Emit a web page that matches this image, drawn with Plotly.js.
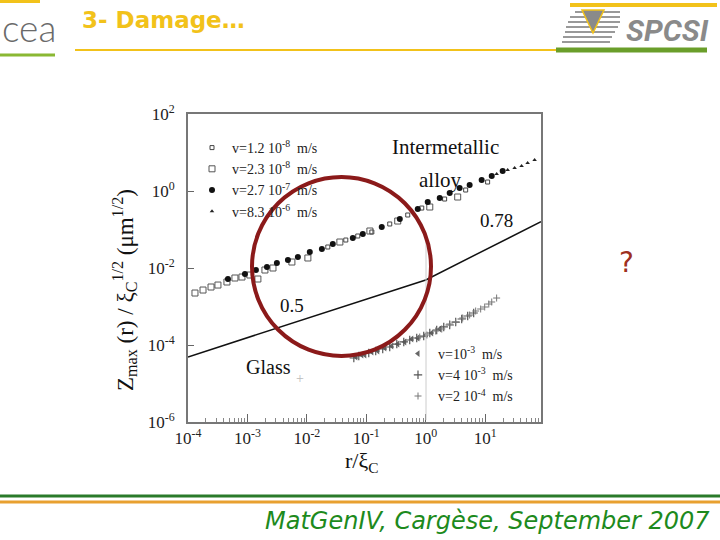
<!DOCTYPE html>
<html>
<head>
<meta charset="utf-8">
<script src="https://cdn.plot.ly/plotly-3.0.1.min.js"></script>
<style>html,body{margin:0;padding:0;background:#fff;}#chart{width:720px;height:540px;}</style>
</head>
<body>
<div id="chart"></div>
<script>
// ---- Data ----
// Intermetallic alloy
const alloyNames = ['v=1.2\u00a010<sup>-8</sup>\u00a0\u00a0m/s','v=2.3\u00a010<sup>-8</sup>\u00a0\u00a0m/s','v=2.7\u00a010<sup>-7</sup>\u00a0\u00a0m/s','v=8.3\u00a010<sup>-6</sup>\u00a0\u00a0m/s'];
const alloy1X = [0.0225,0.0452,0.0719,0.124,0.248,0.498,0.857,2.08,4.70,11.0];
const alloy1Y = [0.0351,0.0533,0.0678,0.0861,0.139,0.238,0.361,0.619,1.06,1.71];
const alloy2X = [1.31e-4,1.79e-4,2.44e-4,3.19e-4,4.52e-4,6.16e-4,8.09e-4,1.10e-3,1.50e-3,1.97e-3,2.69e-3,5.60e-3,1.04e-2,3.59e-2,0.115,0.338,1.17,3.45];
const alloy2Y = [2.24e-3,2.68e-3,3.21e-3,3.61e-3,4.33e-3,5.50e-3,5.83e-3,6.58e-3,5.18e-3,8.87e-3,1.0e-2,1.43e-2,1.82e-2,4.73e-2,0.0914,0.166,0.384,0.698];
const alloy3X = [4.70e-4,9.08e-4,1.39e-3,2.13e-3,3.13e-3,4.80e-3,7.06e-3,1.12e-2,1.79e-2,2.73e-2,5.93e-2,8.73e-2,0.182,0.366,0.734,1.08,1.72,2.53,3.72,5.48,8.73,12.9,19.7];
const alloy3Y = [5.18e-3,6.98e-3,8.87e-3,1.06e-2,1.35e-2,1.61e-2,1.93e-2,2.61e-2,3.12e-2,4.20e-2,6.01e-2,7.64e-2,0.116,0.187,0.340,0.518,0.658,0.887,1.20,1.43,1.93,2.45,3.30];
const alloy4X = [15.6,23.9,31.3,41.0,51.8,67.9];
const alloy4Y = [2.77,3.51,3.96,4.46,5.33,6.38];
// Glass
const glassNames = ['v=10<sup>-3</sup>\u00a0\u00a0m/s','v=4\u00a010<sup>-3</sup>\u00a0\u00a0m/s','v=2\u00a010<sup>-4</sup>\u00a0\u00a0m/s'];
const glass1X = [0.0667,0.0840,0.0944,0.124,0.156,0.205,0.268,0.338,0.444,0.582,0.734,1.0,1.26,1.72];
const glass1Y = [4.88e-5,5.50e-5,5.50e-5,6.58e-5,6.98e-5,8.36e-5,9.42e-5,1.06e-4,1.20e-4,1.43e-4,1.52e-4,1.82e-4,2.05e-4,2.61e-4];
const glass2X = [0.0617,0.0748,0.110,0.144,0.189,0.248,0.326,0.427,0.538,0.706,0.925,1.17,1.53,2.01,2.53,3.19,4.03,5.08,6.41];
const glass2Y = [4.59e-5,5.18e-5,6.19e-5,6.98e-5,7.87e-5,8.87e-5,1.06e-4,1.20e-4,1.35e-4,1.52e-4,1.71e-4,2.05e-4,2.45e-4,2.94e-4,3.31e-4,3.95e-4,4.73e-4,5.66e-4,6.78e-4];
const glass3X = [0.793,1.04,1.47,1.86,2.53,3.19,4.19,5.48,6.92,8.40,9.82,11.5,12.9,15.6];
const glass3Y = [1.61e-4,1.82e-4,2.31e-4,2.61e-4,3.51e-4,3.95e-4,5.02e-4,6.01e-4,7.64e-4,8.61e-4,9.70e-4,1.16e-3,1.31e-3,1.66e-3];
// Guide power laws (slopes 0.5 then 0.78)
const guideX = [1e-4, 1, 87];
const guideY = [4.9e-5, 4.9e-3, 0.16];
// Tick labels
const xTickVals = [1e-4,1e-3,1e-2,1e-1,1,10];
const xTickText = ['10<sup>-4</sup>','10<sup>-3</sup>','10<sup>-2</sup>','10<sup>-1</sup>','10<sup>0</sup>','10<sup>1</sup>'];
const yTickVals = [1e-6,1e-4,1e-2,1,1e2];
const yTickText = ['10<sup>-6</sup>','10<sup>-4</sup>','10<sup>-2</sup>','10<sup>0</sup>','10<sup>2</sup>'];

// ---- Layout helpers (pixel -> paper) ----
const L = 188, R = 541, T = 114, B = 422;
const px = x => (x - L) / (R - L);
const py = y => (B - y) / (B - T);
const serif = 'Liberation Serif, Times New Roman, serif';

const minorX = [];
for (let e = -4; e <= 1; e++) for (let m = 2; m <= 9; m++) minorX.push(m * Math.pow(10, e));

const traces = [
  {x: alloy1X, y: alloy1Y, name: alloyNames[0], mode: 'markers', marker: {symbol: 'square-open', size: 4, color: '#444', line: {width: 1}}},
  {x: alloy2X, y: alloy2Y, name: alloyNames[1], mode: 'markers', marker: {symbol: 'square-open', size: 6, color: '#555', line: {width: 1}}},
  {x: alloy3X, y: alloy3Y, name: alloyNames[2], mode: 'markers', marker: {symbol: 'circle', size: 6, color: '#111'}},
  {x: alloy4X, y: alloy4Y, name: alloyNames[3], mode: 'markers', marker: {symbol: 'triangle-up', size: 4, color: '#222'}},
  {x: glass1X, y: glass1Y, name: glassNames[0], legend: 'legend2', mode: 'markers', marker: {symbol: 'triangle-left', size: 6, color: '#666'}},
  {x: glass2X, y: glass2Y, name: glassNames[1], legend: 'legend2', mode: 'markers', marker: {symbol: 'cross-thin-open', size: 6, color: '#555', line: {width: 1.2, color: '#555'}}},
  {x: glass3X, y: glass3Y, name: glassNames[2], legend: 'legend2', mode: 'markers', marker: {symbol: 'cross-thin-open', size: 5, color: '#777', line: {width: 1, color: '#777'}}},
  {x: guideX, y: guideY, mode: 'lines', showlegend: false, line: {color: '#111', width: 1.5}, hoverinfo: 'skip'}
];

const ann = (x, y, text, size, extra) => Object.assign({
  xref: 'paper', yref: 'paper', x: px(x), y: py(y), text: text, showarrow: false,
  xanchor: 'center', yanchor: 'middle', font: {family: serif, size: size, color: '#111'}
}, extra || {});

const hline = (x0, x1, y, w, c) => ({type: 'line', xref: 'paper', yref: 'paper', x0: px(x0), x1: px(x1), y0: py(y), y1: py(y), line: {color: c, width: w}});

const shapes = [
  // header decorations
  hline(0, 40, 1.5, 3, '#f2c21a'),
  hline(0, 55, 55, 3, '#8ab833'),
  hline(75, 556, 50, 2, '#f2c21a'),
  hline(570, 717, 5, 4, '#f2c21a'),
  hline(556, 707, 50, 5, '#6a9e2a'),
  hline(575, 620, 12, 2, '#999'),
  hline(570, 620, 17, 2, '#999'),
  hline(568, 620, 22, 2, '#999'),
  hline(566, 618, 27, 2, '#999'),
  hline(565, 615, 32, 2, '#999'),
  hline(563, 612, 37, 2, '#999'),
  hline(562, 610, 42, 2, '#999'),
  {type: 'path', xref: 'paper', yref: 'paper',
   path: 'M ' + px(582) + ' ' + py(10) + ' L ' + px(604) + ' ' + py(10) + ' L ' + px(593) + ' ' + py(33) + ' Z',
   fillcolor: '#8a8a8a', line: {color: '#f2c21a', width: 1.5}},
  // footer lines
  hline(0, 720, 496, 3, '#2a7a2a'),
  hline(0, 720, 502, 3, '#e8a030'),
  // faint vertical line in figure at r = 1
  {type: 'line', xref: 'paper', yref: 'paper', x0: px(426), x1: px(426), y0: py(420), y1: py(240), line: {color: '#ccc', width: 1}},
  // red circle
  {type: 'circle', xref: 'paper', yref: 'paper', x0: px(252), x1: px(431), y0: py(356), y1: py(177), line: {color: '#8b1a1a', width: 4}}
];

const annotations = [
  ann(445, 147, 'Intermetallic', 21),
  ann(440, 180, 'alloy', 21),
  ann(496, 220, '0.78', 19),
  ann(292, 305, '0.5', 19),
  ann(268, 367, 'Glass', 20),
  ann(300, 378, '+', 14, {font: {family: serif, size: 14, color: '#bbb'}}),
  ann(124, 290, 'Z<sub>max</sub> (r) / ξ<sub>C</sub><sup>1/2</sup> (μm<sup>1/2</sup>)', 23, {textangle: -90}),
  ann(362, 462, 'r/ξ<sub>C</sub>', 22),
  ann(626, 262, '?', 28, {font: {family: 'DejaVu Sans, sans-serif', size: 28, color: '#9e3020'}}),
  // header / footer
  ann(29, 28, 'cea', 37, {font: {family: 'Lato, sans-serif', size: 37, color: '#6a6a6a', weight: 300}}),
  ann(80, 20, '3- Damage…', 23, {xanchor: 'left', font: {family: 'DejaVu Sans, sans-serif', size: 23, color: '#f2c21a', weight: 'bold'}}),
  ann(667, 30, 'SPCSI', 30, {font: {family: 'Roboto, sans-serif', size: 30, color: '#8a8a8a', weight: 'bold', style: 'italic'}}),
  ann(712, 521, 'MatGenIV, Cargèse, September 2007', 24, {xanchor: 'right', font: {family: 'DejaVu Sans, sans-serif', size: 24, color: '#1d8a1d', style: 'italic'}})
];

const layout = {
  width: 720, height: 540,
  margin: {l: L, r: 720 - R, t: T, b: 540 - B, pad: 0},
  paper_bgcolor: '#fff', plot_bgcolor: '#fff',
  showlegend: true,
  xaxis: {
    type: 'log', range: [-4, Math.log10(87)],
    tickmode: 'array', tickvals: xTickVals, ticktext: xTickText,
    ticks: 'inside', ticklen: 8, tickcolor: '#666', tickwidth: 1,
    minor: {tickmode: 'array', tickvals: minorX, ticks: 'inside', ticklen: 4, tickcolor: '#888'},
    showline: true, linecolor: '#777', linewidth: 2, mirror: true,
    showgrid: false, zeroline: false,
    tickfont: {family: serif, size: 17, color: '#222'}
  },
  yaxis: {
    type: 'log', range: [-6, 2],
    tickmode: 'array', tickvals: yTickVals, ticktext: yTickText,
    ticks: 'inside', ticklen: 6, tickcolor: '#666', tickwidth: 1,
    ticklabelstandoff: 8,
    showline: true, linecolor: '#777', linewidth: 2, mirror: true,
    showgrid: false, zeroline: false,
    tickfont: {family: serif, size: 17, color: '#222'}
  },
  legend: {
    x: px(192), y: py(132), xanchor: 'left', yanchor: 'top',
    bgcolor: 'rgba(0,0,0,0)', font: {family: serif, size: 14, color: '#222'},
    itemwidth: 30, tracegroupgap: 0
  },
  legend2: {
    x: px(398), y: py(338), xanchor: 'left', yanchor: 'top',
    bgcolor: 'rgba(0,0,0,0)', font: {family: serif, size: 14, color: '#222'},
    itemwidth: 30, tracegroupgap: 0
  },
  shapes: shapes,
  annotations: annotations
};

Plotly.newPlot('chart', traces, layout, {staticPlot: true, displayModeBar: false});
</script>
</body>
</html>
